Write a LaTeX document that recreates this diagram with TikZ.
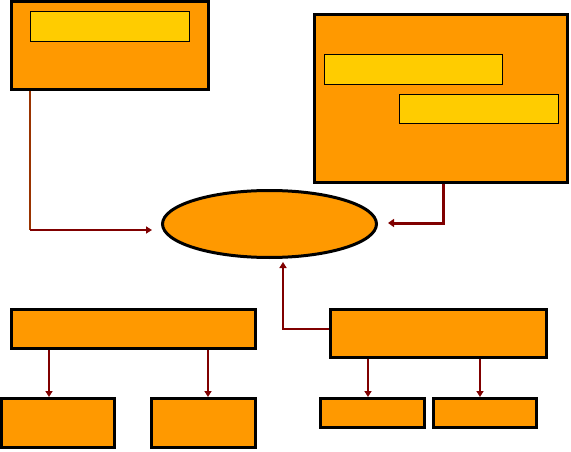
\documentclass[tikz,border=0pt]{standalone}
\usetikzlibrary{arrows.meta,shapes.geometric}
\definecolor{orng}{HTML}{FF9900}
\definecolor{yel}{HTML}{FFCC00}
\definecolor{dred}{HTML}{800000}
\definecolor{brwn}{HTML}{993300}
\begin{document}
\begin{tikzpicture}[x=1pt,y=-1pt,
  bigbox/.style={draw=black,fill=orng,line width=3pt,inner sep=0pt,rectangle},
  inbox/.style={draw=black,fill=yel,line width=1pt,inner sep=0pt,rectangle},
  conn/.style={draw=dred,line width=1.5pt,-{Triangle[length=6pt,width=7pt]}},
  thickconn/.style={draw=dred,line width=3pt,-{Triangle[length=6pt,width=8pt]}},
  plain/.style={draw=brwn,line width=1.5pt}]
\useasboundingbox (0,0) rectangle (571,452);
% top-left box
\node[bigbox,minimum width=197pt,minimum height=88pt] (A) at (110,45.5) {};
\node[inbox,minimum width=159pt,minimum height=30pt] (A1) at (110,26.5) {};
% top-right box
\node[bigbox,minimum width=253pt,minimum height=168pt] (B) at (441,98.5) {};
\node[inbox,minimum width=178pt,minimum height=30pt] (B1) at (413.5,69.5) {};
\node[inbox,minimum width=159pt,minimum height=29pt] (B2) at (479,109) {};
% ellipse
\node[ellipse,draw=black,fill=orng,line width=3pt,inner sep=0pt,minimum width=214pt,minimum height=67pt] (E) at (269.5,224) {};
% bottom-left
\node[bigbox,minimum width=244pt,minimum height=39pt] (C) at (133.5,329) {};
\node[bigbox,minimum width=113pt,minimum height=49pt] (C1) at (58,423) {};
\node[bigbox,minimum width=104pt,minimum height=49pt] (C2) at (203.5,423) {};
% bottom-right
\node[bigbox,minimum width=216pt,minimum height=48pt] (D) at (438.5,333.5) {};
\node[bigbox,minimum width=104pt,minimum height=29pt] (D1) at (372.5,413) {};
\node[bigbox,minimum width=103pt,minimum height=29pt] (D2) at (485,413) {};
% connectors
\coordinate (a1) at (30,230);
\coordinate (a2) at (152,230);
\draw[plain] (A.south -| a1) -- (a1);
\draw[conn] (a1) -- (a2);
\coordinate (b1) at (443,223);
\coordinate (b2) at (388,223);
\draw[thickconn] (B.south -| b1) -- (b1) -- (b2);
\coordinate (d1) at (283,329);
\coordinate (d2) at (283,262);
\draw[conn] (D.west |- d1) -- (d1) -- (d2);
\draw[conn] (C.south -| 49,0) -- (C1.north -| 49,0);
\draw[conn] (C.south -| 208,0) -- (C2.north -| 208,0);
\draw[conn] (D.south -| 368,0) -- (D1.north -| 368,0);
\draw[conn] (D.south -| 480,0) -- (D2.north -| 480,0);
\end{tikzpicture}
\end{document}
